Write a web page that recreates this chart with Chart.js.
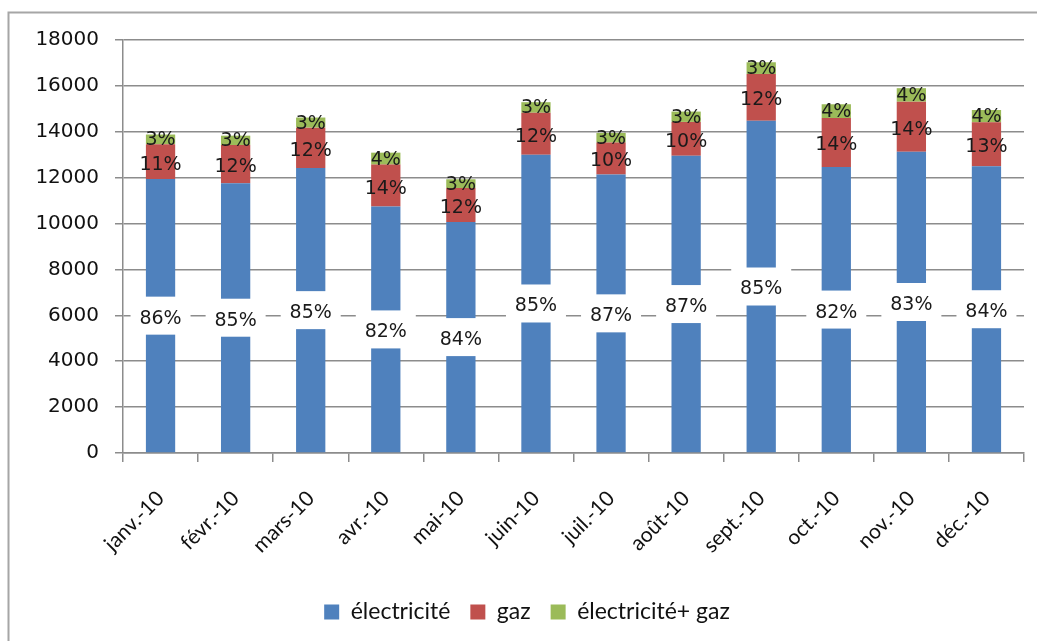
<!DOCTYPE html>
<html lang="fr">
<head>
<meta charset="utf-8">
<title>Consommation mensuelle 2010</title>
<script src="https://cdn.jsdelivr.net/npm/chart.js@4.4.0/dist/chart.umd.min.js"></script>
<style>
  html, body { margin: 0; padding: 0; background: #fff; overflow: hidden; }
  #wrap { width: 1037px; height: 641px; }
</style>
</head>
<body>
<div id="wrap"><canvas id="chart" width="1037" height="641"></canvas></div>
<script>
// monthly values per energy type
const months = ['janv.-10', 'févr.-10', 'mars-10', 'avr.-10', 'mai-10', 'juin-10',
                'juil.-10', 'août-10', 'sept.-10', 'oct.-10', 'nov.-10', 'déc.-10'];
const electricite = [11940, 11760, 12420, 10740, 10070, 13000, 12140, 12950, 14480, 12470, 13130, 12500];
const gaz = [1520, 1660, 1760, 1830, 1480, 1830, 1390, 1480, 2040, 2130, 2180, 1910];
const elecGaz = [420, 410, 440, 520, 380, 460, 420, 450, 510, 600, 590, 540];

const yMin = 0, yMax = 18000, yStep = 2000;

const totals = months.map((_, i) => electricite[i] + gaz[i] + elecGaz[i]);
const GRID = '#8c8c8c';

// white background + outer frame
const framePlugin = {
  id: 'frame',
  beforeDraw(chart) {
    const ctx = chart.ctx;
    ctx.save();
    ctx.fillStyle = '#fff';
    ctx.fillRect(0, 0, chart.width, chart.height);
    ctx.strokeStyle = '#a6a6a6';
    ctx.lineWidth = 2;
    ctx.strokeRect(8.5, 12.5, chart.width + 50, chart.height + 50);
    ctx.restore();
  }
};

// share of each segment in the monthly total
const pctLabels = {
  id: 'pctLabels',
  afterDatasetsDraw(chart) {
    const ctx = chart.ctx;
    ctx.save();
    ctx.font = '19px "DejaVu Sans"';
    ctx.textAlign = 'center';
    ctx.textBaseline = 'middle';
    chart.data.datasets.forEach((ds, di) => {
      chart.getDatasetMeta(di).data.forEach((bar, i) => {
        const txt = Math.round(ds.data[i] / totals[i] * 100) + '%';
        const cy = (bar.y + bar.base) / 2;
        if (di === 0) {
          ctx.fillStyle = '#fff';
          ctx.fillRect(bar.x - 30, cy - 19, 60, 38);
        }
        ctx.fillStyle = '#1a1a1a';
        ctx.fillText(txt, bar.x, cy + (di === 2 ? 1 : 3));
      });
    });
    ctx.restore();
  }
};

// keep the legend box compact
const legendHeight = {
  id: 'legendHeight',
  afterInit(chart) {
    const lg = chart.legend;
    const fit = lg.fit;
    lg.fit = function () { fit.call(this); this.height = 55; };
  }
};

new Chart(document.getElementById('chart'), {
  type: 'bar',
  data: {
    labels: months,
    datasets: [
      { label: 'électricité', data: electricite, backgroundColor: '#4f81bd' },
      { label: 'gaz', data: gaz, backgroundColor: '#c0504d' },
      { label: 'électricité+ gaz', data: elecGaz, backgroundColor: '#9bbb59' }
    ]
  },
  options: {
    responsive: false,
    animation: false,
    datasets: { bar: { barPercentage: 0.39, categoryPercentage: 1, borderWidth: 0 } },
    layout: { padding: { top: 40, left: 30, right: 13, bottom: 5.5 } },
    scales: {
      x: {
        stacked: true,
        grid: { drawOnChartArea: false, color: GRID, lineWidth: 1.5, tickLength: 9, offset: true },
        border: { color: GRID, width: 1.5 },
        ticks: { minRotation: 45, maxRotation: 45, color: '#111', padding: 24,
                 font: { family: 'Lato', size: 21 } },
        afterFit(s) { s.height = 127.5; }
      },
      y: {
        stacked: true,
        min: yMin, max: yMax,
        grid: { color: GRID, lineWidth: 1.5, tickLength: 8 },
        border: { color: GRID, width: 1.5 },
        ticks: { stepSize: yStep, color: '#111', padding: 16,
                 font: { family: 'DejaVu Sans', size: 20 },
                 callback: v => String(v) },
        afterFit(s) { s.width = 93; }
      }
    },
    plugins: {
      legend: {
        position: 'bottom',
        labels: { boxWidth: 15, boxHeight: 15, padding: 20, color: '#111',
                  font: { family: 'Lato', size: 23 } }
      },
      tooltip: { enabled: false }
    }
  },
  plugins: [framePlugin, pctLabels, legendHeight]
});
</script>
</body>
</html>
